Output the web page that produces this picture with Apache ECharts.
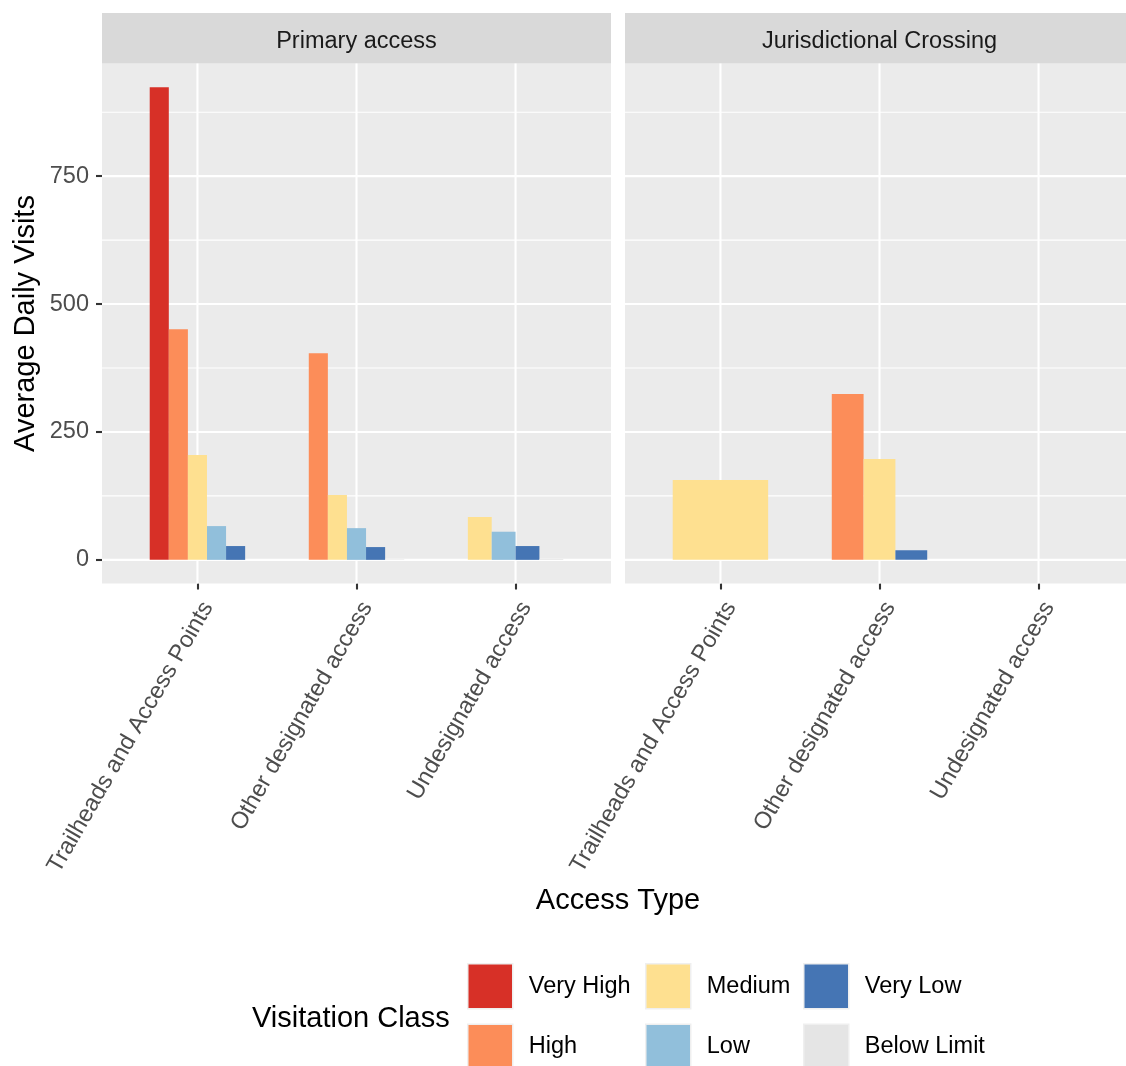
<!DOCTYPE html>
<html>
<head>
<meta charset="utf-8">
<title>Average Daily Visits by Access Type</title>
<script src="https://cdn.jsdelivr.net/npm/echarts@6/dist/echarts.min.js"></script>
<style>
  html, body { margin: 0; padding: 0; background: #ffffff; }
  #chart { width: 1126px; height: 1066px; }
</style>
</head>
<body>
<div id="chart"></div>
<script>
// ---- data -------------------------------------------------------------
const categories = ['Trailheads and Access Points', 'Other designated access', 'Undesignated access'];
const facets = ['Primary access', 'Jurisdictional Crossing'];
const classes = ['Very High', 'High', 'Medium', 'Low', 'Very Low', 'Below Limit'];

// Average daily visits per access type (null = no sites in that class)
const primaryVeryHigh   = [924, null, null];
const primaryHigh       = [451, 404, null];
const primaryMedium     = [205, 127, 84];
const primaryLow        = [66, 62, 55];
const primaryVeryLow    = [27, 25, 27];
const primaryBelowLimit = [null, 1, 1.5];

const crossingVeryHigh   = [null, null, null];
const crossingHigh       = [null, 324, null];
const crossingMedium     = [156, 197, null];
const crossingLow        = [null, null, null];
const crossingVeryLow    = [null, 19, null];
const crossingBelowLimit = [null, null, null];

const yTicks = [0, 250, 500, 750];
const yMinorTicks = [125, 375, 625, 875];

// ---- styling ------------------------------------------------------------
const palette = ['#D73027', '#FC8D59', '#FEE090', '#91BFDB', '#4575B4', '#E5E5E5'];
const FONT = "'Liberation Sans', Arial, Helvetica, sans-serif";
const PANEL_LEFT = [102, 625];
const PANEL_TOP = 63.5;
const PANEL_W = 509;
const PANEL_H = 520;
const STRIP_H = 50.5;
const DODGE = 0.6;          // total dodge width in category units
const X_MIN = 0.4, X_MAX = 3.6;

const facetValues = [
  [primaryVeryHigh, primaryHigh, primaryMedium, primaryLow, primaryVeryLow, primaryBelowLimit],
  [crossingVeryHigh, crossingHigh, crossingMedium, crossingLow, crossingVeryLow, crossingBelowLimit]
];

// y range padded 5% on both sides of the data range
const allValues = facetValues.flat(2).filter(v => v != null);
const yTop = Math.max(...allValues);
const Y_MIN = -0.05 * yTop;
const Y_MAX = 1.05 * yTop;

// dodge slots: only the classes present at an access type share its width
function buildSeriesData(f, k) {
  const out = [];
  categories.forEach((cat, c) => {
    const present = [];
    facetValues[f].forEach((arr, kk) => { if (arr[c] != null) present.push(kk); });
    const v = facetValues[f][k][c];
    if (v != null) out.push([c + 1, v, present.indexOf(k), present.length]);
  });
  return out;
}

function renderBar(params, api) {
  const x = api.value(0), v = api.value(1), slot = api.value(2), n = api.value(3);
  const w = DODGE / n;
  const x0 = x - DODGE / 2 + slot * w;
  const p0 = api.coord([x0, v]);
  const p1 = api.coord([x0 + w, 0]);
  return {
    type: 'rect',
    shape: { x: p0[0], y: Math.min(p0[1], p1[1]), width: p1[0] - p0[0], height: Math.abs(p1[1] - p0[1]) },
    style: { fill: api.visual('color') }
  };
}

// panel grid lines: [kind (0 = horizontal, 1 = vertical), value, major]
const gridLineData = [];
yMinorTicks.forEach(v => gridLineData.push([0, v, 0]));
yTicks.forEach(v => gridLineData.push([0, v, 1]));
categories.forEach((c, i) => gridLineData.push([1, i + 1, 1]));

function renderGridLine(params, api) {
  const cs = params.coordSys;
  const kind = api.value(0), v = api.value(1), major = api.value(2);
  const lw = major ? 2.1 : 1.1;
  if (kind === 0) {
    const y = api.coord([X_MIN, v])[1];
    return { type: 'line', shape: { x1: cs.x, y1: y, x2: cs.x + cs.width, y2: y },
             style: { stroke: '#FFFFFF', lineWidth: lw } };
  }
  const x = api.coord([v, 0])[0];
  return { type: 'line', shape: { x1: x, y1: cs.y, x2: x, y2: cs.y + cs.height },
           style: { stroke: '#FFFFFF', lineWidth: lw } };
}

// ---- option ---------------------------------------------------------------
const grids = facets.map((f, i) => ({
  left: PANEL_LEFT[i], top: PANEL_TOP, width: PANEL_W, height: PANEL_H,
  show: true, backgroundColor: '#EBEBEB', borderWidth: 0,
  containLabel: false, outerBoundsMode: 'none'
}));

const xAxes = facets.map((f, i) => ({
  type: 'value', gridIndex: i, min: X_MIN, max: X_MAX,
  axisLine: { show: false, onZero: false },
  splitLine: { show: false },
  axisTick: { show: true, length: 6, customValues: [1, 2, 3],
              lineStyle: { color: '#333333', width: 2.1 } },
  axisLabel: {
    customValues: [1, 2, 3],
    formatter: v => categories[Math.round(v) - 1],
    rotate: 60, align: 'right', verticalAlign: 'top', margin: 14,
    fontSize: 23.5, color: '#4D4D4D', fontFamily: FONT
  }
}));

const yAxes = facets.map((f, i) => ({
  type: 'value', gridIndex: i, min: Y_MIN, max: Y_MAX,
  axisLine: { show: false, onZero: false },
  splitLine: { show: false },
  axisTick: { show: i === 0, length: 6, customValues: yTicks,
              lineStyle: { color: '#333333', width: 2.1 } },
  axisLabel: { show: i === 0, customValues: yTicks, margin: 13,
               fontSize: 23.5, color: '#4D4D4D', fontFamily: FONT },
  name: i === 0 ? 'Average Daily Visits' : '',
  nameLocation: 'middle', nameRotate: 90, nameGap: 62,
  nameTextStyle: { fontSize: 29, color: '#000000', fontFamily: FONT }
}));

const series = [];
facets.forEach((f, i) => {
  series.push({
    type: 'custom', name: 'panel grid', xAxisIndex: i, yAxisIndex: i,
    silent: true, z: 1, renderItem: renderGridLine, data: gridLineData
  });
});
facets.forEach((f, i) => {
  classes.forEach((cls, k) => {
    series.push({
      type: 'custom', name: cls, xAxisIndex: i, yAxisIndex: i, z: 3,
      itemStyle: { color: palette[k] },
      renderItem: renderBar,
      encode: { x: 0, y: 1 },
      data: buildSeriesData(i, k)
    });
  });
});

// three legend columns, filled top to bottom
const legendLeft = [467, 645, 803];
const legends = [0, 1, 2].map(col => ({
  orient: 'vertical', left: legendLeft[col], top: 963, height: 200, padding: 0,
  data: classes.slice(col * 2, col * 2 + 2),
  icon: 'rect', itemWidth: 45, itemHeight: 45, itemGap: 14,
  selectedMode: false,
  itemStyle: { borderColor: '#EFEFEF', borderWidth: 1.5 },
  textStyle: { fontSize: 23.5, color: '#000000', fontFamily: FONT, padding: [0, 0, 0, 11] }
}));

const graphics = [];
facets.forEach((f, i) => {
  graphics.push({
    type: 'rect', left: PANEL_LEFT[i], top: PANEL_TOP - STRIP_H, silent: true,
    shape: { width: PANEL_W, height: STRIP_H }, style: { fill: '#D9D9D9' }
  });
  graphics.push({
    type: 'text', x: PANEL_LEFT[i] + PANEL_W / 2, y: PANEL_TOP - STRIP_H / 2 + 3, silent: true,
    style: { text: f, fontSize: 23.5, fill: '#1A1A1A', fontFamily: FONT,
             align: 'center', verticalAlign: 'middle' }
  });
});
graphics.push({
  type: 'text', x: (PANEL_LEFT[0] + PANEL_LEFT[1] + PANEL_W) / 2, y: 901, silent: true,
  style: { text: 'Access Type', fontSize: 29, fill: '#000000', fontFamily: FONT,
           align: 'center', verticalAlign: 'middle' }
});
graphics.push({
  type: 'text', x: 252, y: 1019, silent: true,
  style: { text: 'Visitation Class', fontSize: 29, fill: '#000000', fontFamily: FONT,
           align: 'left', verticalAlign: 'middle' }
});

const chart = echarts.init(document.getElementById('chart'), null, { renderer: 'canvas' });
chart.setOption({
  animation: false,
  backgroundColor: '#FFFFFF',
  textStyle: { fontFamily: FONT },
  grid: grids,
  xAxis: xAxes,
  yAxis: yAxes,
  legend: legends,
  graphic: graphics,
  series: series
});
</script>
</body>
</html>
